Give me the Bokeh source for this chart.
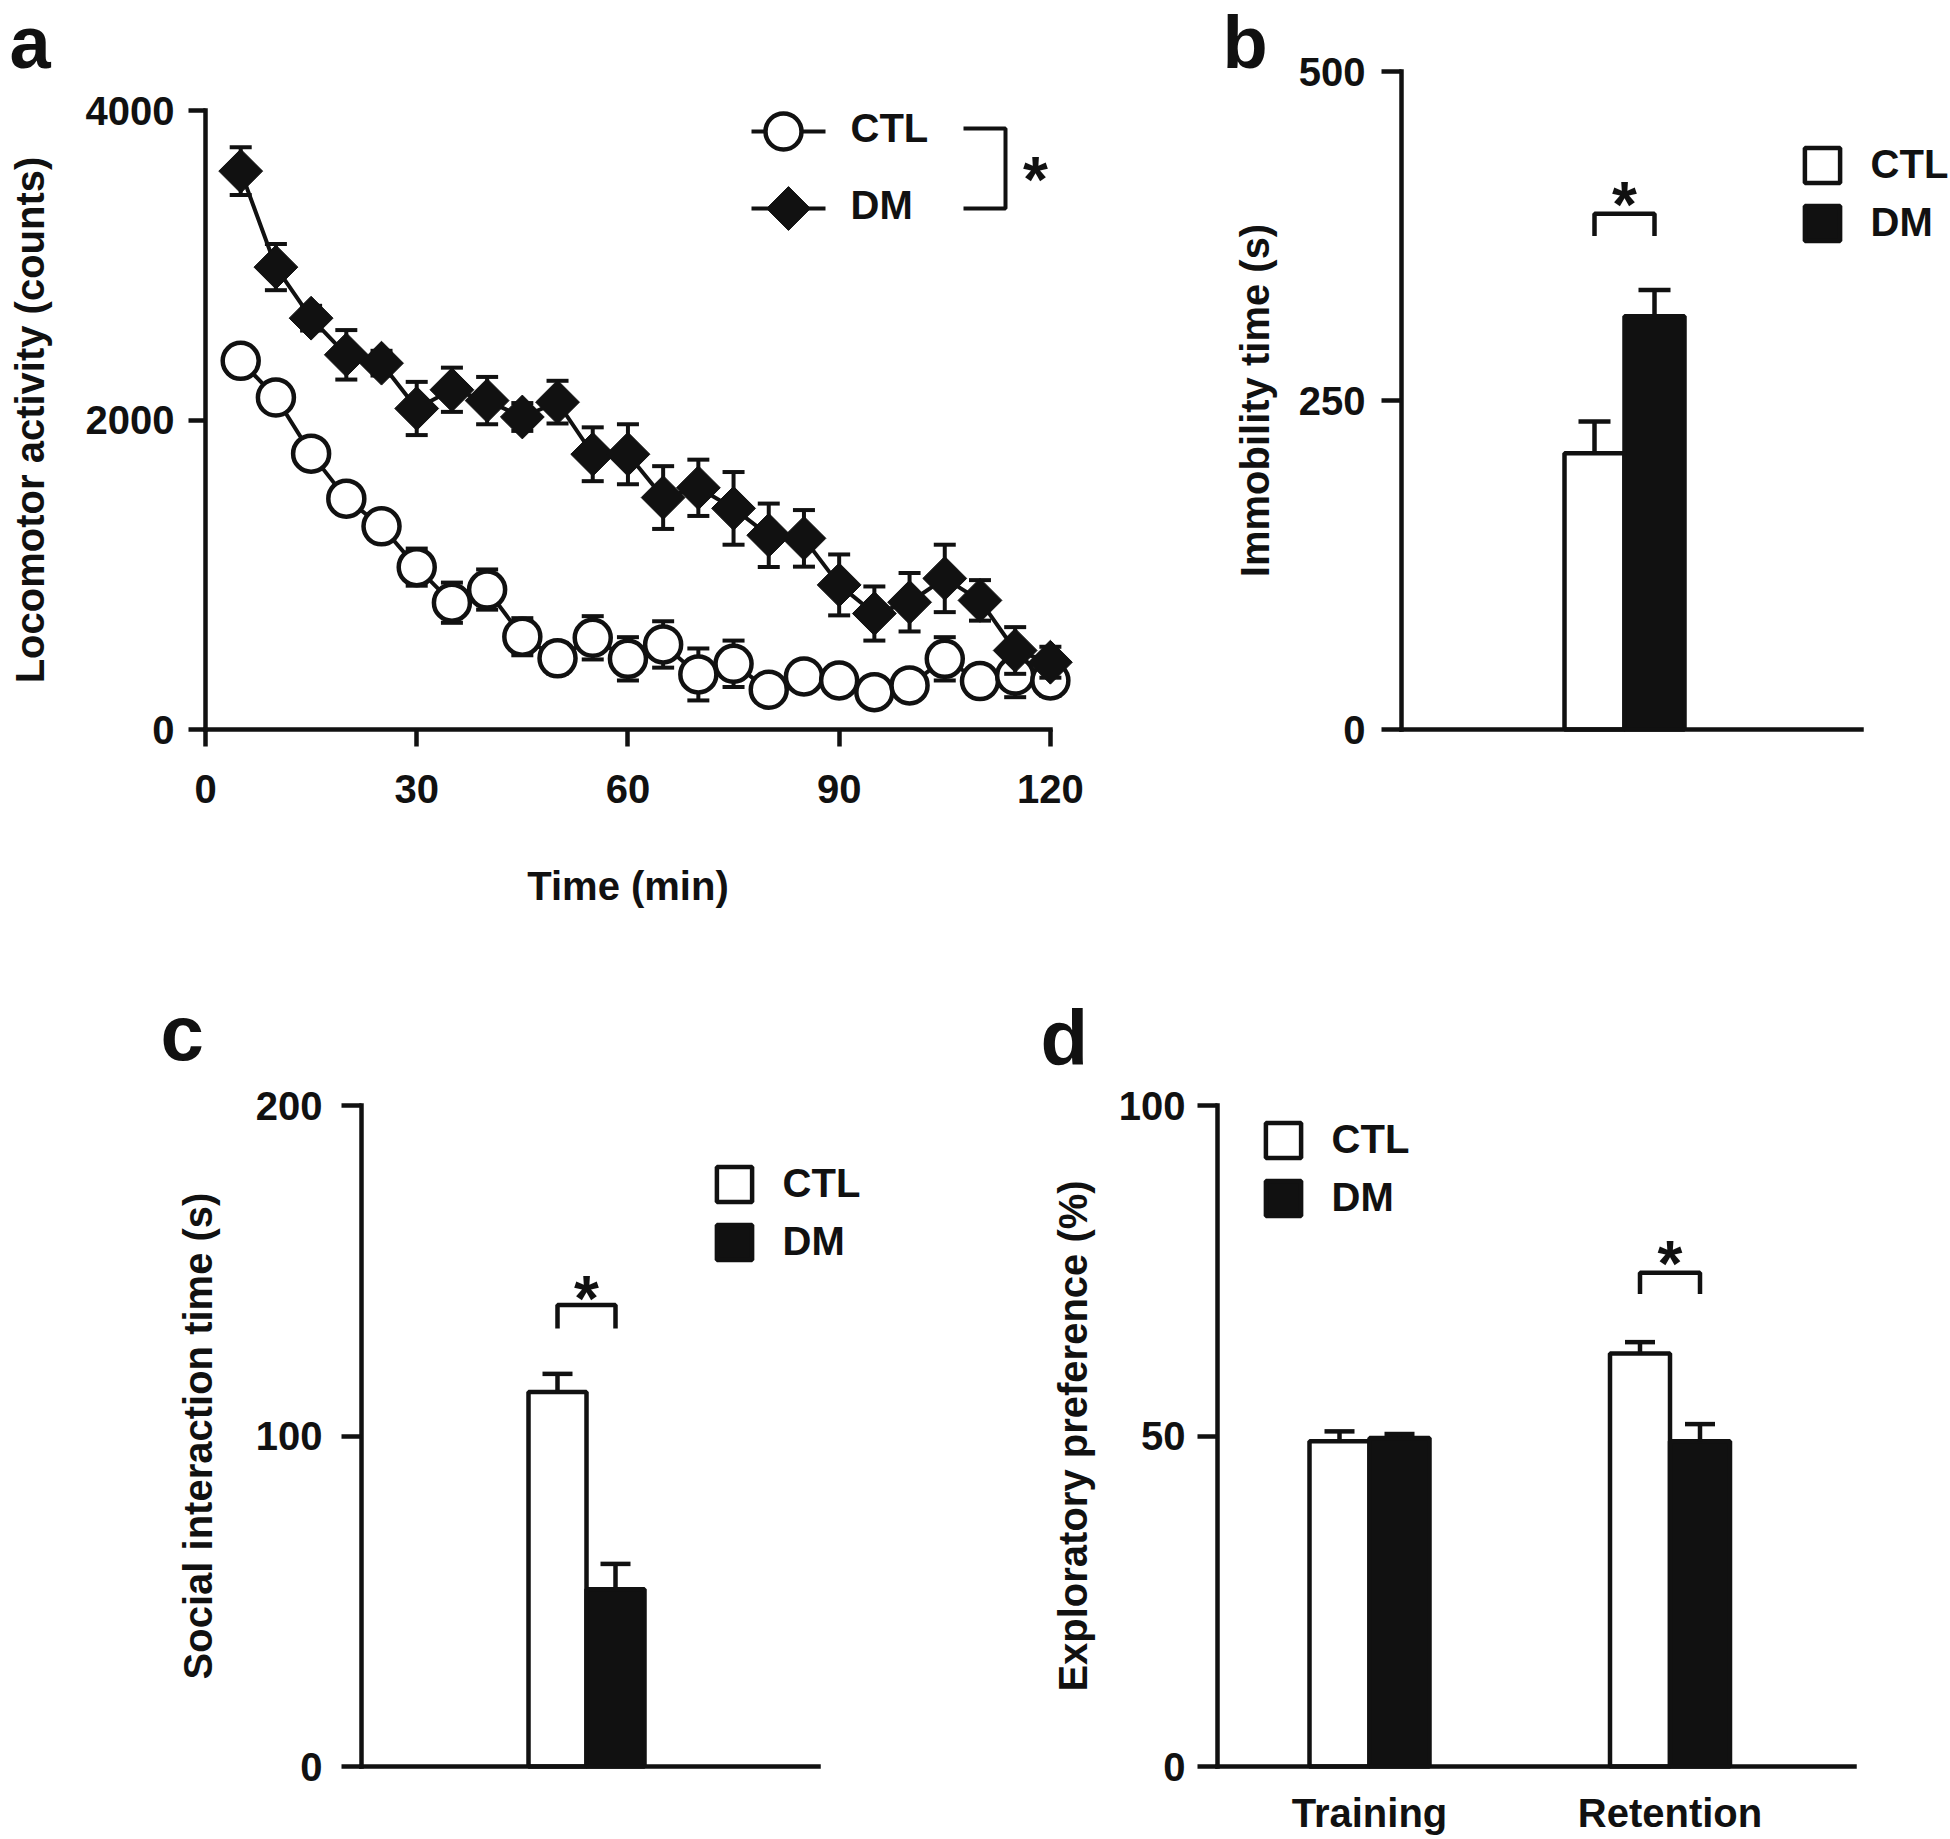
import numpy as np
from bokeh.plotting import figure
from bokeh.layouts import column, row
from bokeh.models import Range1d, FixedTicker, Label, Legend, LegendItem
from bokeh.embed import file_html
from bokeh.resources import INLINE

FONT = "Liberation Sans"
INK = "#111111"
LW = 4.5
FS = "40px"

# ---------------- data ----------------
# panel a: locomotor activity
time_min = [5, 10, 15, 20, 25, 30, 35, 40, 45, 50, 55, 60,
            65, 70, 75, 80, 85, 90, 95, 100, 105, 110, 115, 120]
ctl_activity = [2384, 2147, 1784, 1493, 1314, 1050, 820, 905, 600, 460, 593, 457,
                550, 356, 425, 257, 343, 317, 241, 285, 457, 313, 349, 317]
ctl_activity_sem = [90, 90, 80, 80, 80, 120, 130, 130, 120, 100, 140, 140,
                    150, 168, 150, 60, 80, 70, 60, 80, 140, 90, 140, 100]
dm_activity = [3611, 2990, 2660, 2423, 2369, 2076, 2197, 2127, 2021, 2117, 1780, 1780,
               1500, 1563, 1430, 1256, 1236, 935, 750, 823, 977, 835, 511, 435]
dm_activity_sem = [155, 149, 80, 160, 80, 172, 143, 153, 90, 138, 174, 194,
                   203, 182, 235, 205, 183, 197, 175, 189, 218, 131, 151, 100]
a_xticks = [0, 30, 60, 90, 120]
a_yticks = [0, 2000, 4000]

groups = ["CTL", "DM"]

# panel b: immobility time (s)  [CTL, DM]
immobility_mean = [210, 314]
immobility_sem = [24, 20]
b_yticks = [0, 250, 500]
b_sig = [375, 392, 406]          # bracket leg end, bracket top, star centre

# panel c: social interaction time (s)  [CTL, DM]
social_mean = [113.3, 53.6]
social_sem = [5.5, 7.7]
c_yticks = [0, 100, 200]
c_sig = [132.5, 139.6, 144.5]

# panel d: exploratory preference (%)
phases = ["Training", "Retention"]
pref_ctl = [49.2, 62.5]
pref_ctl_sem = [1.5, 1.7]
pref_dm = [49.7, 49.2]
pref_dm_sem = [0.6, 2.6]
d_yticks = [0, 50, 100]
d_sig_phase = 1
d_sig = [71.5, 74.7, 77.5]


# ---------------- layout helpers ----------------
class Panel:
    """A figure whose frame fills the whole canvas; axes drawn at fixed data locations."""

    def __init__(self, box, xmap, ymap):
        self.l, self.t, self.r, self.b = box
        self.xp0, self.xd0, self.sx = xmap      # page px, data value, px per unit
        self.yp0, self.yd0, self.sy = ymap
        xr = Range1d(self.x(self.l), self.x(self.r))
        yr = Range1d(self.y(self.b), self.y(self.t))
        p = figure(width=self.r - self.l, height=self.b - self.t,
                   min_border_left=0, min_border_right=0,
                   min_border_top=0, min_border_bottom=0,
                   x_range=xr, y_range=yr,
                   output_backend="svg", toolbar_location=None)
        p.xgrid.visible = False
        p.ygrid.visible = False
        p.outline_line_color = None
        p.background_fill_color = "white"
        p.border_fill_color = "white"
        for ax in p.axis:
            ax.axis_line_color = INK
            ax.axis_line_width = LW
            ax.axis_line_cap = "square"
            ax.major_tick_line_color = INK
            ax.major_tick_line_width = LW
            ax.major_tick_in = 0
            ax.minor_tick_line_color = None
            ax.major_label_text_font = FONT
            ax.major_label_text_font_style = "bold"
            ax.major_label_text_font_size = FS
            ax.major_label_text_color = INK
            ax.axis_label_text_font = FONT
            ax.axis_label_text_font_style = "bold"
            ax.axis_label_text_font_size = FS
            ax.axis_label_text_color = INK
        self.p = p

    def x(self, px):
        return self.xd0 + (px - self.xp0) / self.sx

    def y(self, py):
        return self.yd0 + (self.yp0 - py) / self.sy

    def letter(self, text, px, py, size):
        self.p.add_layout(Label(x=px - self.l, y=self.b - py, x_units="screen", y_units="screen",
                                text=text, text_font=FONT, text_font_style="bold",
                                text_font_size=size, text_color=INK,
                                text_align="left", text_baseline="middle"))

    def star(self, xd, yd_centre):
        self.p.add_layout(Label(x=xd, y=yd_centre - 10.0 / self.sy, text="*",
                                text_font=FONT, text_font_style="bold", text_font_size="64px",
                                text_color=INK, text_align="center", text_baseline="middle"))

    def text(self, s, px, py):
        self.p.add_layout(Label(x=self.x(px), y=self.y(py), text=s,
                                text_font=FONT, text_font_style="bold", text_font_size=FS,
                                text_color=INK, text_align="left", text_baseline="middle"))


def bar_legend(P, r_ctl, r_dm, glyph_left_px, bottom_px):
    leg = Legend(items=[LegendItem(label=groups[0], renderers=[r_ctl]),
                        LegendItem(label=groups[1], renderers=[r_dm])],
                 location=(glyph_left_px - P.l, P.b - bottom_px), orientation="vertical",
                 glyph_width=44, glyph_height=44, spacing=13,
                 padding=0, margin=0, label_standoff=27,
                 label_text_font=FONT, label_text_font_style="bold",
                 label_text_font_size=FS, label_text_color=INK,
                 border_line_color=None, background_fill_alpha=0)
    P.p.add_layout(leg)


def bars(p, xc, bw, ctl_vals, ctl_err, dm_vals, dm_err, cap):
    xc = np.asarray(xc, dtype=float)
    xl, xr = xc - bw / 2, xc + bw / 2
    r_ctl = p.vbar(x=xl, top=ctl_vals, width=bw, bottom=0,
                   fill_color="white", line_color=INK, line_width=LW)
    r_dm = p.vbar(x=xr, top=dm_vals, width=bw, bottom=0,
                  fill_color=INK, line_color=INK, line_width=LW)
    for xs, v, e in ((xl, ctl_vals, ctl_err), (xr, dm_vals, dm_err)):
        v = np.asarray(v, dtype=float)
        e = np.asarray(e, dtype=float)
        p.segment(x0=xs, y0=v, x1=xs, y1=v + e, line_color=INK, line_width=LW)
        p.scatter(x=xs, y=v + e, marker="dash", size=cap, line_color=INK, line_width=LW)
    return r_ctl, r_dm


def bracket(p, x_left, x_right, sig):
    leg, top, _ = sig
    p.line([x_left, x_left, x_right, x_right], [leg, top, top, leg],
           line_color=INK, line_width=LW)


def setup_axes(P, yaxis_px, xaxis_end_px, yticks, ytick_out, ylab_standoff,
               ytitle, ytitle_standoff):
    p = P.p
    p.yaxis.fixed_location = P.x(yaxis_px)
    p.xaxis.fixed_location = 0
    p.yaxis.bounds = (yticks[0], yticks[-1])
    p.xaxis.bounds = (P.x(yaxis_px), P.x(xaxis_end_px))
    p.yaxis.ticker = FixedTicker(ticks=yticks)
    p.yaxis.major_tick_out = ytick_out
    p.yaxis.major_label_standoff = ylab_standoff
    p.yaxis.axis_label = ytitle
    p.yaxis.axis_label_standoff = ytitle_standoff


# ---------------- panel a ----------------
A = Panel((0, 0, 1200, 920), (205, 0, 866 / 123), (729, 0, 634 / 4100))
pa = A.p
setup_axes(A, 205, 205 + 120 * A.sx, a_yticks, 17, 14,
           "Locomotor activity (counts)", 31)
pa.xaxis.bounds = (a_xticks[0], a_xticks[-1])
pa.xaxis.ticker = FixedTicker(ticks=a_xticks)
pa.xaxis.major_tick_out = 17
pa.xaxis.major_label_standoff = 28
pa.xaxis.axis_label = "Time (min)"
pa.xaxis.axis_label_standoff = 58

t = np.array(time_min, dtype=float)
for vals, errs, kind in ((ctl_activity, ctl_activity_sem, "ctl"),
                         (dm_activity, dm_activity_sem, "dm")):
    v = np.array(vals, dtype=float)
    e = np.array(errs, dtype=float)
    pa.line(t, v, line_color=INK, line_width=4)
    pa.segment(x0=t, y0=v - e, x1=t, y1=v + e, line_color=INK, line_width=4)
    pa.scatter(np.r_[t, t], np.r_[v - e, v + e], marker="dash", size=22,
               line_color=INK, line_width=4)
    if kind == "ctl":
        pa.scatter(t, v, marker="circle", size=36, fill_color="white",
                   line_color=INK, line_width=LW)
    else:
        pa.scatter(t, v, marker="square", angle=np.pi / 4, size=31,
                   fill_color=INK, line_color=INK, line_width=1)

# legend of panel a (page-pixel layout converted to data)
ROW_CTL, ROW_DM = 131, 208
pa.line([A.x(751), A.x(825)], [A.y(ROW_CTL)] * 2, line_color=INK, line_width=4)
pa.scatter([A.x(783)], [A.y(ROW_CTL)], marker="circle", size=36,
           fill_color="white", line_color=INK, line_width=LW)
pa.line([A.x(751), A.x(825)], [A.y(ROW_DM)] * 2, line_color=INK, line_width=4)
pa.scatter([A.x(788)], [A.y(ROW_DM)], marker="square", angle=np.pi / 4, size=31,
           fill_color=INK, line_color=INK, line_width=1)
A.text(groups[0], 850, ROW_CTL - 4)
A.text(groups[1], 850, ROW_DM - 4)
pa.line([A.x(963), A.x(1005), A.x(1005), A.x(963)],
        [A.y(128), A.y(128), A.y(ROW_DM), A.y(ROW_DM)],
        line_color=INK, line_width=4)
A.star(A.x(1035), A.y(169))
A.letter("a", 9, 42, "74px")

# ---------------- panel b ----------------
B = Panel((1200, 0, 1948, 920), (1624, 0.5, 460), (729, 0, 1.316))
pb = B.p
setup_axes(B, 1401, 1861, b_yticks, 20, 16, "Immobility time (s)", 19)
pb.xaxis.ticker = FixedTicker(ticks=[])
pb.xaxis.major_tick_out = 0
gx_b = np.arange(1) + 0.5
BW_B = 60 / B.sx
rc, rd = bars(pb, gx_b, BW_B, [immobility_mean[0]], [immobility_sem[0]],
              [immobility_mean[1]], [immobility_sem[1]], 32)
bracket(pb, gx_b[0] - BW_B / 2, gx_b[0] + BW_B / 2, b_sig)
B.star(gx_b[0], b_sig[2])
bar_legend(B, rc, rd, 1799.6, 245)
B.letter("b", 1222, 42, "74px")

# ---------------- panel c ----------------
C = Panel((0, 920, 1000, 1837), (586, 0.5, 457), (1766, 0, 3.305))
pc = C.p
setup_axes(C, 361, 818, c_yticks, 20, 19, "Social interaction time (s)", 33)
pc.xaxis.ticker = FixedTicker(ticks=[])
pc.xaxis.major_tick_out = 0
gx_c = np.arange(1) + 0.5
BW_C = 58 / C.sx
rc, rd = bars(pc, gx_c, BW_C, [social_mean[0]], [social_sem[0]],
              [social_mean[1]], [social_sem[1]], 30)
bracket(pc, gx_c[0] - BW_C / 2, gx_c[0] + BW_C / 2, c_sig)
C.star(gx_c[0], c_sig[2])
bar_legend(C, rc, rd, 711.6, 1264)
C.letter("c", 160, 1032, "78px")

# ---------------- panel d ----------------
D = Panel((1000, 920, 1948, 1837), (1369, 0.5, 300.5), (1766, 0, 6.61))
pd_ = D.p
setup_axes(D, 1217, 1854, d_yticks, 20, 12, "Exploratory preference (%)", 21)
gx_d = np.arange(len(phases)) + 0.5
pd_.xaxis.ticker = FixedTicker(ticks=list(gx_d))
pd_.xaxis.major_label_overrides = {float(x): name for x, name in zip(gx_d, phases)}
pd_.xaxis.major_tick_out = 0
pd_.xaxis.major_label_standoff = 24
BW_D = 60 / D.sx
rc, rd = bars(pd_, gx_d, BW_D, pref_ctl, pref_ctl_sem, pref_dm, pref_dm_sem, 30)
bracket(pd_, gx_d[d_sig_phase] - BW_D / 2, gx_d[d_sig_phase] + BW_D / 2, d_sig)
D.star(gx_d[d_sig_phase], d_sig[2])
bar_legend(D, rc, rd, 1260.6, 1220)
D.letter("d", 1040, 1037, "78px")

layout = column(row(pa, pb), row(pc, pd_))
open("out.html", "w").write(file_html(layout, INLINE))
